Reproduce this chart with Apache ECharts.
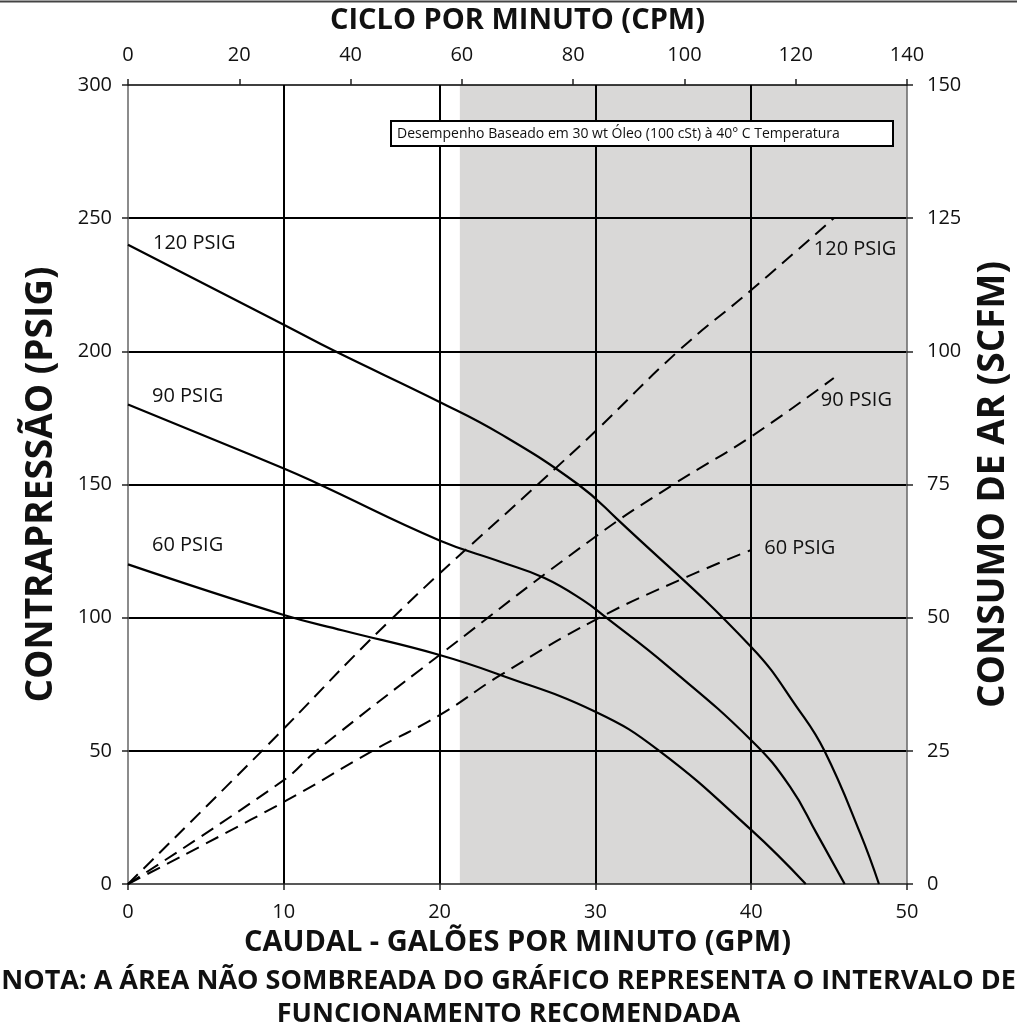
<!DOCTYPE html>
<html>
<head>
<meta charset="utf-8">
<title>Curva de desempenho</title>
<script src="https://cdn.jsdelivr.net/npm/echarts@6/dist/echarts.min.js"></script>
<style>
  html, body { margin: 0; padding: 0; background: #fff; overflow: hidden; }
  #chart { width: 1017px; height: 1034px; }
</style>
</head>
<body>
<div id="chart"></div>
<script>
// fluid curves: flow (GPM) vs back pressure (PSIG)
const flow120 = [0, 10, 13.3, 20, 23.9, 28.9, 31.4, 40, 43.1, 44.7, 47.0, 48.2];
const psi120 = [240, 210, 200, 181, 169, 150, 137, 89, 65, 50, 19, 0];
const flow90 = [0, 10, 12.3, 20, 23.9, 26.7, 29.2, 30.7, 34.6, 40, 42.5, 44.2, 46.0];
const psi90 = [180, 156, 150, 129, 121, 115, 106.6, 100, 82, 54, 36.5, 19, 0];
const flow60 = [0, 10, 13.8, 20, 23.9, 30, 34.1, 40, 43.5];
const psi60 = [120, 101, 95.2, 86, 78.5, 64.7, 50, 20.3, 0];

// air consumption curves: flow (GPM) vs SCFM
const airFlow120 = [0, 8.6, 17, 26.3, 30, 35.3, 40, 45.3];
const scfm120 = [0, 25, 50, 75, 85, 100, 111.5, 125];
const airFlow90 = [0, 10, 12.1, 20, 30, 35, 40, 45.3];
const scfm90 = [0, 19.5, 25, 43, 65.2, 75, 84, 95];
const airFlow60 = [0, 10, 15.7, 20, 23.9, 30, 35.9, 40];
const scfm60 = [0, 15.4, 25, 31.7, 39.2, 49.6, 57.7, 62.7];

const labels = ["120 PSIG", "90 PSIG", "60 PSIG"];

// shaded (not recommended) flow range
const shadeFrom = 21.3;
const shadeTo = 50;

const font = "Open Sans";

const pair = (xs, ys) => xs.map((x, i) => [x, ys[i]]);

const withLabel = (pts, idx, text, pos) =>
  pts.map((p, i) =>
    i === idx
      ? {
          value: p,
          label: {
            show: true,
            formatter: text,
            position: pos,
            align: "left",
            verticalAlign: "middle",
            fontSize: 20,
            fontFamily: font,
            color: "#111",
          },
        }
      : p
  );

const curve = (data, yAxisIndex, dashed) => ({
  type: "line",
  yAxisIndex: yAxisIndex,
  data: data,
  smooth: 0.45,
  showSymbol: true,
  symbol: "circle",
  symbolSize: 0,
  silent: true,
  emphasis: { disabled: true },
  lineStyle: {
    color: "#000",
    width: dashed ? 2 : 2.2,
    type: dashed ? [14, 8] : "solid",
  },
  itemStyle: { color: "#000" },
  z: 3,
});

const chart = echarts.init(document.getElementById("chart"), null, {
  width: 1017,
  height: 1034,
});

const axisName = {
  fontSize: 29,
  fontWeight: "bold",
  fontFamily: font,
  color: "#111",
};
const sideName = Object.assign({}, axisName, { fontSize: 37 });
const tickLabel = { fontSize: 20, fontFamily: font, color: "#111" };

const option = {
  animation: false,
  backgroundColor: "#fff",
  grid: {
    left: 128,
    right: 110,
    top: 85,
    bottom: 150,
    containLabel: false,
    outerBoundsMode: "none",
  },
  title: {
    text: "NOTA: A ÁREA NÃO SOMBREADA DO GRÁFICO REPRESENTA O INTERVALO DE\nFUNCIONAMENTO RECOMENDADA",
    left: "center",
    top: 965,
    padding: 0,
    textStyle: {
      fontSize: 27,
      fontWeight: "bold",
      fontFamily: font,
      color: "#111",
      lineHeight: 33,
      align: "center",
    },
  },
  xAxis: [
    {
      type: "value",
      position: "bottom",
      min: 0,
      max: 50,
      interval: 10,
      name: "CAUDAL - GALÕES POR MINUTO (GPM)",
      nameLocation: "middle",
      nameGap: 44,
      nameTextStyle: axisName,
      axisLine: { onZero: false, lineStyle: { color: "#222", width: 1.5 } },
      axisTick: { show: true, length: 6, lineStyle: { color: "#222", width: 1.5 } },
      axisLabel: Object.assign({ margin: 18 }, tickLabel),
      splitLine: {
        show: true,
        showMinLine: false,
        showMaxLine: false,
        lineStyle: { color: "#000", width: 2 },
      },
    },
    {
      type: "value",
      position: "top",
      min: 0,
      max: 140,
      interval: 20,
      name: "CICLO POR MINUTO (CPM)",
      nameLocation: "middle",
      nameGap: 50,
      nameTextStyle: axisName,
      axisLine: { onZero: false, lineStyle: { color: "#000", width: 1.5 } },
      axisTick: { show: true, length: 6, lineStyle: { color: "#222", width: 1.5 } },
      axisLabel: Object.assign({ margin: 20 }, tickLabel),
      splitLine: { show: false },
    },
  ],
  yAxis: [
    {
      type: "value",
      position: "left",
      min: 0,
      max: 300,
      interval: 50,
      name: "CONTRAPRESSÃO (PSIG)",
      nameLocation: "middle",
      nameRotate: 90,
      nameGap: 68,
      nameTextStyle: sideName,
      axisLine: { show: true, onZero: false, lineStyle: { color: "#666", width: 1.5 } },
      axisTick: { show: true, length: 6, lineStyle: { color: "#222", width: 1.5 } },
      axisLabel: Object.assign({ margin: 16 }, tickLabel),
      splitLine: {
        show: true,
        showMinLine: false,
        showMaxLine: false,
        lineStyle: { color: "#000", width: 2 },
      },
    },
    {
      type: "value",
      position: "right",
      min: 0,
      max: 150,
      interval: 25,
      name: "CONSUMO DE AR (SCFM)",
      nameLocation: "middle",
      nameRotate: 90,
      nameGap: 68,
      nameTextStyle: sideName,
      axisLine: { show: true, onZero: false, lineStyle: { color: "#666", width: 1.5 } },
      axisTick: { show: true, length: 6, lineStyle: { color: "#222", width: 1.5 } },
      axisLabel: Object.assign({ margin: 20 }, tickLabel),
      splitLine: { show: false },
    },
  ],
  graphic: [
    {
      type: "line",
      shape: { x1: 0, y1: 1.5, x2: 1017, y2: 1.5 },
      style: { stroke: "#444", lineWidth: 2 },
    },
    {
      type: "rect",
      z: 100,
      shape: { x: 391, y: 121, width: 502, height: 25 },
      style: { fill: "#fff", stroke: "#000", lineWidth: 2 },
    },
    {
      type: "text",
      z: 101,
      x: 397,
      y: 134,
      style: {
        text: "Desempenho Baseado em 30 wt Óleo (100 cSt) à 40° C Temperatura",
        font: "14px 'Open Sans'",
        fill: "#111",
        verticalAlign: "middle",
      },
    },
  ],
  series: [
    {
      type: "line",
      data: [],
      z: -1,
      silent: true,
      markArea: {
        silent: true,
        z: -1,
        itemStyle: { color: "#d9d8d7" },
        data: [[{ xAxis: shadeFrom }, { xAxis: shadeTo }]],
      },
    },
    curve(withLabel(pair(flow120, psi120), 0, labels[0], [25, -2]), 0, false),
    curve(withLabel(pair(flow90, psi90), 0, labels[1], [24, -8]), 0, false),
    curve(withLabel(pair(flow60, psi60), 0, labels[2], [24, -19]), 0, false),
    curve(withLabel(pair(airFlow120, scfm120), airFlow120.length - 1, labels[0], [-20, 31]), 1, true),
    curve(withLabel(pair(airFlow90, scfm90), airFlow90.length - 1, labels[1], [-13, 22]), 1, true),
    curve(withLabel(pair(airFlow60, scfm60), airFlow60.length - 1, labels[2], [13, -2]), 1, true),
  ],
};

chart.setOption(option);
</script>
</body>
</html>
